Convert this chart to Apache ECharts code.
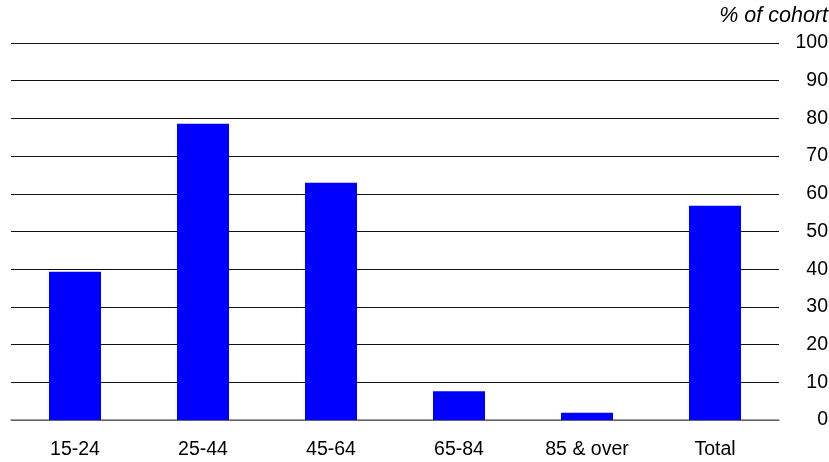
<!DOCTYPE html>
<html>
<head>
<meta charset="utf-8">
<script src="https://cdn.jsdelivr.net/npm/echarts@6/dist/echarts.min.js"></script>
<style>html,body{margin:0;padding:0;background:#fff}#c{width:829px;height:462px}</style>
</head>
<body>
<div id="c"></div>
<script>
var categories = ['15-24', '25-44', '45-64', '65-84', '85 & over', 'Total'];
var values = [39.3, 78.6, 62.9, 7.6, 1.9, 56.8];
var yTicks = { min: 0, max: 100, interval: 10 };
var axisTitle = '% of cohort';

var chart = echarts.init(document.getElementById('c'), null, { renderer: 'canvas' });
chart.setOption({
  animation: false,
  backgroundColor: '#fff',
  textStyle: { fontFamily: 'Liberation Sans, Arial, sans-serif' },
  grid: { left: 11, right: 50, top: 43, bottom: 42, containLabel: false, outerBoundsMode: 'none' },
  graphic: [{
    type: 'text', right: 1, top: 5,
    style: { text: axisTitle, font: 'italic 21.5px "Liberation Sans", Arial, sans-serif', fill: '#000', textAlign: 'right' }
  }],
  xAxis: {
    type: 'category', data: categories,
    axisLine: { show: true, lineStyle: { color: '#808080', width: 1.5 } },
    axisTick: { show: false },
    axisLabel: { color: '#000', fontSize: 19.5, margin: 20, fontFamily: 'Liberation Sans, Arial, sans-serif' }
  },
  yAxis: {
    type: 'value', position: 'right', min: yTicks.min, max: yTicks.max, interval: yTicks.interval,
    axisLine: { show: false }, axisTick: { show: false },
    splitLine: { show: true, lineStyle: { color: '#111', width: 1.2 } },
    axisLabel: { color: '#000', fontSize: 19.5, align: 'right', margin: 49, fontFamily: 'Liberation Sans, Arial, sans-serif' }
  },
  series: [{
    type: 'bar', data: values, barWidth: 52,
    itemStyle: { color: '#0000FF' }
  }]
});
</script>
</body>
</html>
